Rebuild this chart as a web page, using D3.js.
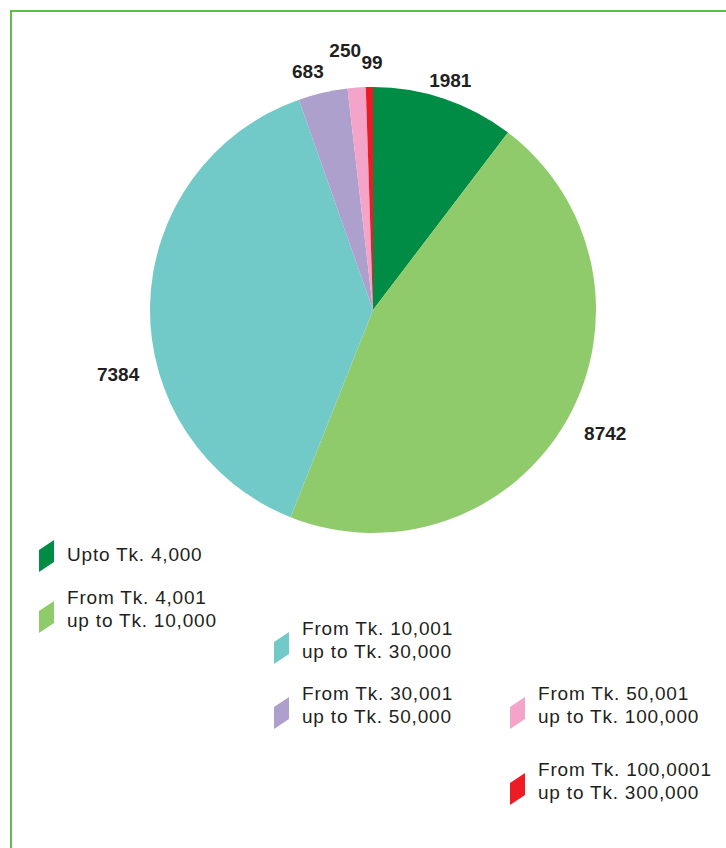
<!DOCTYPE html>
<html><head><meta charset="utf-8">
<script src="https://cdn.jsdelivr.net/npm/d3@7"></script>
<style>
html,body{margin:0;padding:0;background:#fff;}
svg{display:block;}
text{font-family:"Liberation Sans",Arial,sans-serif;}
</style></head>
<body>
<script>
// ---- data ----
const categories = [
  ["Upto Tk. 4,000"],
  ["From Tk. 4,001", "up to Tk. 10,000"],
  ["From Tk. 10,001", "up to Tk. 30,000"],
  ["From Tk. 30,001", "up to Tk. 50,000"],
  ["From Tk. 50,001", "up to Tk. 100,000"],
  ["From Tk. 100,0001", "up to Tk. 300,000"]
];
const values = [1981, 8742, 7384, 683, 250, 99];
const colors = ["#008c44", "#8fcb6a", "#72cac8", "#ada0cd", "#f3a4c8", "#ed1c24"];

// ---- layout (not data) ----
const W = 726, H = 848;
const cx = 373, cy = 310, R = 223;
// label placement: angle offset (deg) and radius per slice
const labelPlace = [
  {da: 0, r: 242},
  {da: -1.5, r: 263},
  {da: -15.4, r: 263},
  {da: -2.3, r: 247},
  {da: -1.9, r: 261},
  {da: 0.7, r: 248}
];
// legend item anchor: x of marker, y centre of text block
const legendPlace = [
  {x: 39, y: 554},
  {x: 39, y: 609},
  {x: 274, y: 640},
  {x: 274, y: 705},
  {x: 510, y: 705},
  {x: 510, y: 781}
];

const svg = d3.select("body").append("svg").attr("width", W).attr("height", H);

// border
svg.append("rect").attr("x", 11).attr("y", 11).attr("width", W + 10).attr("height", H + 10)
  .attr("fill", "none").attr("stroke", "#5cbf4a").attr("stroke-width", 2);

const pie = d3.pie().sort(null).value(d => d);
const arcs = pie(values);
const arc = d3.arc().innerRadius(0).outerRadius(R);

const g = svg.append("g").attr("transform", `translate(${cx},${cy})`);
g.selectAll("path").data(arcs).join("path")
  .attr("d", arc).attr("fill", (d, i) => colors[i]);

// value labels
g.selectAll("text.val").data(arcs).join("text")
  .attr("class", "val")
  .attr("x", (d, i) => {
    const a = (d.startAngle + d.endAngle) / 2 + labelPlace[i].da * Math.PI / 180;
    return Math.sin(a) * labelPlace[i].r;
  })
  .attr("y", (d, i) => {
    const a = (d.startAngle + d.endAngle) / 2 + labelPlace[i].da * Math.PI / 180;
    return -Math.cos(a) * labelPlace[i].r;
  })
  .attr("text-anchor", "middle").attr("dominant-baseline", "central")
  .attr("font-size", 19).attr("font-weight", "bold").attr("fill", "#231f20")
  .text(d => d.data);

// legend
const lg = svg.selectAll("g.leg").data(categories).join("g").attr("class", "leg")
  .attr("transform", (d, i) => `translate(${legendPlace[i].x},${legendPlace[i].y})`);
lg.append("path")
  .attr("d", (d, i) => {
    const off = d.length > 1 ? 7 : 1;
    return `M0,${off - 5}L15,${off - 15}L15,${off + 7}L0,${off + 17}Z`;
  })
  .attr("fill", (d, i) => colors[i]);
lg.each(function(d) {
  const n = d.length;
  const t = d3.select(this).append("text").attr("font-size", 19)
    .attr("letter-spacing", "0.8px").attr("fill", "#231f20");
  d.forEach((line, j) => {
    t.append("tspan").attr("x", 28)
      .attr("y", (j - (n - 1) / 2) * 22.5)
      .attr("dominant-baseline", "central")
      .text(line);
  });
});
</script>
</body></html>
